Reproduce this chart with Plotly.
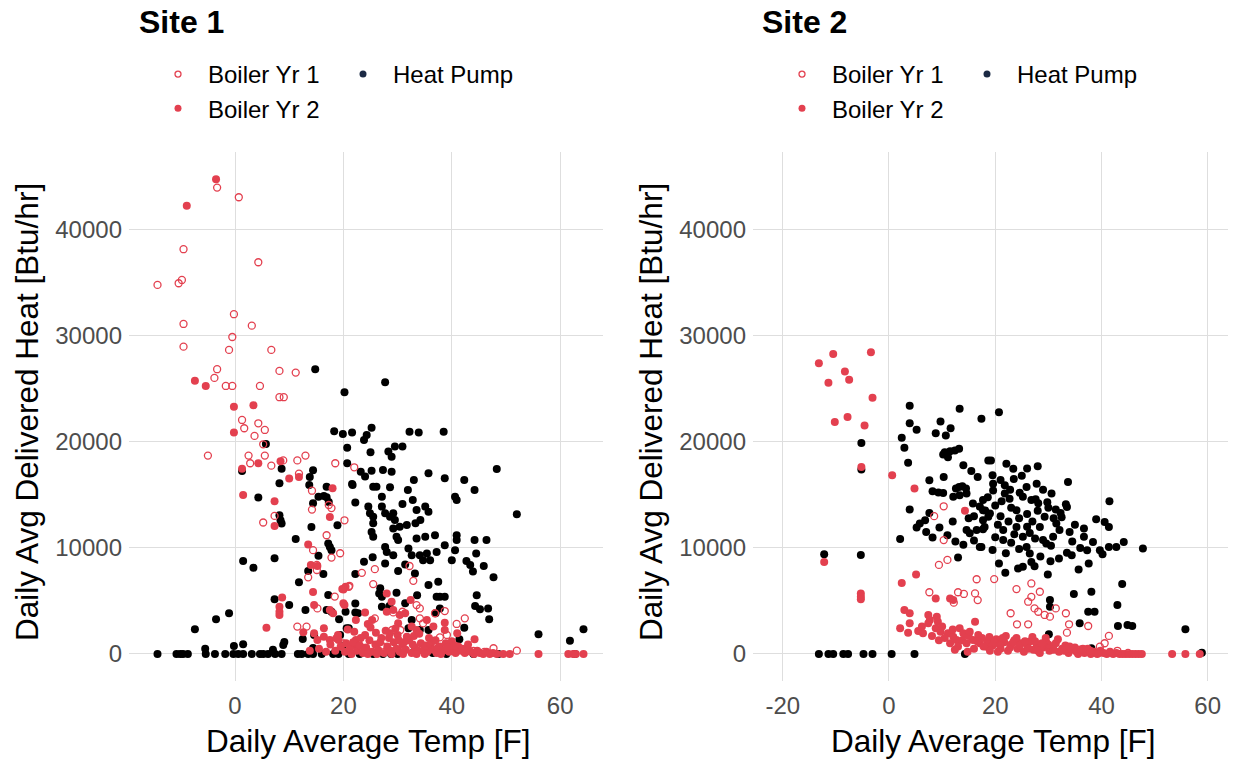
import plotly.graph_objects as go

# ---------------- data (Daily Average Temp [F], Daily Avg Delivered Heat [Btu/hr]) ----------------
site1_boiler_yr1 = [
    (-3.3, 43990), (0.7, 43080), (-9.5, 38180), (4.3, 36950), (-14.3, 34810), (-9.8, 35280),
    (-10.4, 34970), (-0.2, 32050), (3.1, 30970), (-9.5, 31130), (-0.5, 29900), (-9.5, 28990),
    (-1.1, 28680), (6.7, 28680), (8.2, 26700), (11.2, 26540), (-3.3, 26860), (-3.8, 26040),
    (-1.7, 25280), (-0.5, 25280), (4.6, 25280), (8.2, 24220), (9.0, 24220), (1.3, 22075),
    (4.3, 21760), (1.7, 21290), (5.5, 21130), (3.6, 20570), (5.2, 19780), (18.5, 17990),
    (22.0, 17610), (-5.0, 18710), (2.5, 18710), (2.8, 17990), (5.5, 18710), (6.7, 17760),
    (8.9, 18260), (11.5, 18260), (13.0, 18710), (11.8, 17010), (14.2, 15400), (14.2, 13620),
    (17.3, 14050), (17.8, 13760), (7.3, 13020), (5.2, 12400), (20.2, 12610), (16.9, 11200),
    (14.4, 9790), (19.4, 9500), (17.8, 9090), (15.1, 8400), (15.1, 7920), (13.5, 7230),
    (21.1, 6430), (15.2, 4300), (18.4, 5410), (11.5, 2580), (13.2, 2580), (23.4, 7650),
    (25.8, 8000), (25.5, 6590), (21.0, 6340), (32.2, 8300), (32.9, 6900), (33.5, 4610),
    (34.1, 4300), (30.9, 3980), (34.1, 3360), (34.7, 2890), (36.9, 3840), (38.7, 4050),
    (42.4, 3360), (40.9, 2830), (37.8, 1570), (39.1, 1790), (47.7, 540), (52.0, 310),
    (25.8, 3360), (29.0, 2260), (30.5, 2260), (29.2, 3920), (27.0, 800), (31.0, 500),
    (36.0, 900), (44.0, 300), (46.0, 200), (24.0, 1200), (20.0, 1000),
]

site1_boiler_yr2 = [
    (-3.5, 44780), (-8.9, 42290), (-7.4, 25780), (-5.4, 25280), (-0.2, 23330), (3.4, 23460),
    (-0.2, 20880), (4.3, 17990), (8.4, 18170), (1.3, 17480), (10.0, 16540), (11.8, 16690),
    (18.0, 15630), (1.5, 15000), (7.3, 14400), (7.3, 12080), (17.5, 12920), (13.5, 10330),
    (14.0, 8400), (15.2, 8300), (14.4, 5850), (19.8, 6130), (20.4, 6350), (8.7, 5330),
    (8.2, 4460), (8.2, 3980), (8.2, 3670), (14.6, 4610), (17.5, 4140), (18.1, 3830),
    (20.2, 4610), (5.8, 2480), (12.6, 2040), (14.6, 1950), (16.4, 2420), (16.4, 1630),
    (17.5, 1320), (15.2, 1320), (18.7, 1480), (19.1, 1320), (22.3, 1320), (21.7, 850),
    (20.5, 1000), (20.0, 6090), (20.0, 4780), (22.3, 3200), (24.0, 3900), (25.3, 3200),
    (24.5, 2830), (28.0, 5710), (28.9, 4930), (28.0, 3980), (29.2, 4140), (30.4, 3670),
    (32.4, 5080), (31.4, 3840), (30.1, 2890), (32.6, 2580), (33.5, 2260), (35.4, 3200),
    (36.6, 2580), (38.7, 2950), (38.7, 2260), (41.0, 1950), (44.2, 1380), (28.6, 1950),
    (31.7, 1630), (50.7, 0), (56.0, 0), (61.5, 0), (62.4, 0), (64.3, 0), (62.9, 0),
    (18.5, 300), (19.5, 700), (20.3, 200), (21.2, 500), (21.8, 1100), (22.5, 300),
    (23.0, 800), (23.6, 100), (24.2, 600), (24.8, 1300), (25.3, 200), (25.9, 900),
    (26.4, 400), (27.0, 1500), (27.5, 100), (28.1, 700), (28.7, 300), (29.3, 1100),
    (29.8, 500), (30.4, 200), (30.9, 900), (31.5, 400), (32.1, 1300), (32.6, 100),
    (33.2, 600), (33.8, 300), (34.3, 1000), (34.9, 500), (35.5, 200), (36.1, 800),
    (36.6, 400), (37.2, 100), (37.8, 700), (38.4, 300), (38.9, 1000), (39.5, 200),
    (40.1, 500), (40.7, 100), (41.2, 700), (41.8, 300), (42.4, 100), (43.0, 400),
    (43.5, 200), (44.1, 0), (44.7, 300), (45.2, 100), (45.8, 0), (46.4, 200),
    (47.0, 0), (47.6, 100), (48.3, 0), (49.5, 0), (26.0, 2000), (27.8, 2200),
    (30.0, 1800), (33.0, 1700), (35.8, 1500), (24.0, 1800), (22.0, 2100), (37.0, 1300),
    (40.0, 1200), (43.0, 900), (13.8, 300), (15.5, 500), (16.8, 200), (17.6, 900),
    (19.0, 1800), (20.8, 2300), (23.2, 1500), (25.0, 2500), (26.8, 1100), (28.4, 1500),
    (29.6, 2400), (31.2, 1100), (32.8, 900), (34.0, 1900), (35.2, 800), (36.4, 1200),
    (37.5, 600), (39.2, 600), (40.5, 800), (42.0, 500), (21.5, 0), (23.8, 300),
    (26.2, 0), (28.9, 0), (31.0, 0), (33.5, 0), (35.0, 0), (38.0, 0), (24.5, 0), (30.2, 1300),
]

site1_heat_pump = [
    (14.8, 26860), (20.2, 24690), (27.7, 25630), (5.7, 19810), (18.3, 21010), (19.9, 20750),
    (21.6, 20880), (20.7, 19460), (20.7, 17990), (21.6, 16040), (22.2, 14280), (1.3, 17250),
    (8.6, 17480), (14.4, 17320), (13.8, 16690), (8.2, 16100), (13.7, 15940), (16.9, 15780),
    (4.3, 14750), (15.4, 14840), (16.9, 14780), (16.4, 14900), (14.4, 14220), (17.3, 14330),
    (8.2, 13080), (8.4, 12610), (8.6, 12300), (18.9, 12140), (14.1, 11980), (11.2, 10850),
    (17.2, 10420), (17.5, 10100), (17.8, 9790), (15.4, 9270), (1.5, 8770), (3.4, 8140),
    (7.3, 9030), (13.5, 7830), (16.3, 7550), (11.8, 6760), (17.2, 5570), (22.2, 7550),
    (7.3, 5170), (10.0, 4610), (13.0, 4140), (16.9, 4140), (17.8, 3980), (20.4, 3980),
    (22.2, 4770), (22.2, 3910), (19.2, 3270), (-3.5, 3270), (-1.1, 3840), (-7.4, 2330),
    (20.6, 2420), (14.6, 1790), (12.5, 1410), (1.5, 910), (9.1, 1130), (8.9, 850),
    (19.8, 720), (-14.3, 0), (-10.8, 0), (-10.1, 0), (-9.6, 0), (-8.7, 0), (-5.4, 0),
    (-3.7, 0), (-1.8, 0), (-0.3, 0), (0.6, 0), (1.5, 0), (3.1, 0), (4.6, 0), (5.2, 0),
    (6.1, 0), (7.4, 0), (8.6, 0), (11.6, 0), (12.3, 0), (13.5, 0), (14.4, 0), (16.0, 0),
    (18.1, 0), (19.1, 0), (-5.5, 500), (-0.2, 750), (7.0, 400), (14.4, 560),
    (23.8, 20190), (24.3, 20660), (25.2, 21350), (32.2, 20970), (33.9, 20880), (38.5, 20970),
    (48.3, 17450), (52.0, 13180), (25.0, 19030), (28.3, 19090), (28.9, 18610), (29.5, 19560),
    (30.9, 19560), (35.7, 17050), (38.7, 16570), (33.0, 16410), (42.3, 16410), (44.2, 15470),
    (23.2, 17200), (24.0, 16730), (25.2, 17290), (27.3, 17360), (28.9, 17200), (21.7, 15940),
    (25.5, 15780), (26.1, 15780), (28.6, 15730), (27.1, 14840), (31.9, 15470), (32.8, 14530),
    (40.6, 14840), (40.9, 14530), (24.6, 13900), (24.9, 13270), (25.5, 12950), (25.5, 12330),
    (27.1, 13900), (27.7, 13270), (28.6, 12950), (29.2, 13270), (29.5, 12640), (30.4, 12010),
    (30.9, 14150), (33.5, 13580), (35.1, 13900), (35.7, 13420), (34.2, 12640), (33.3, 12330),
    (31.7, 12170), (29.2, 11830), (29.8, 11050), (30.1, 10740), (25.2, 11510), (25.5, 11050),
    (33.5, 10890), (35.1, 11050), (36.9, 11200), (40.9, 11200), (40.9, 10740), (40.6, 9790),
    (44.2, 10740), (46.4, 10740), (38.7, 10260), (37.2, 9630), (35.4, 9480), (44.5, 9480),
    (27.7, 10100), (28.0, 9630), (29.2, 9320), (32.0, 9950), (32.6, 9320), (34.1, 9320),
    (34.7, 8850), (36.0, 8850), (40.0, 8850), (42.7, 8770), (43.4, 8400), (43.9, 7770),
    (45.9, 8300), (47.7, 7230), (25.4, 9120), (23.8, 8710), (27.7, 8540), (30.1, 7830),
    (31.4, 8440), (33.2, 7600), (35.7, 6500), (37.5, 6810), (26.8, 6190), (26.6, 5710),
    (27.1, 5400), (29.8, 5770), (33.6, 5550), (37.2, 5400), (37.8, 5400), (38.7, 5400),
    (44.6, 5550), (44.3, 4530), (45.2, 4210), (46.7, 4300), (46.9, 3270), (27.1, 4460),
    (28.5, 4530), (31.4, 4780), (32.6, 3200), (37.0, 3840), (37.8, 4300), (21.0, 2420),
    (34.1, 2260), (35.7, 2260), (42.3, 2480), (41.4, 1380), (32.0, 2420), (56.0, 1850),
    (61.8, 1250), (64.3, 2330), (19.4, 1790), (22.7, 3840), (48.6, 0), (62.7, 0),
    (25.5, 0), (27.3, 0), (28.8, 0), (30.0, 0), (33.0, 200), (36.5, 100), (39.0, 0),
    (41.0, 300), (44.0, 0), (23.0, 0), (21.0, 0),
]

site2_boiler_yr1 = [
    (10.3, 13930), (8.5, 13000), (10.3, 10740), (9.4, 8400), (11.0, 8870), (16.5, 7050),
    (7.6, 5820), (13.0, 5820), (14.1, 5660), (12.2, 4840), (16.2, 5710), (16.7, 5080),
    (19.8, 7060), (24.0, 6120), (26.8, 6650), (28.4, 5870), (26.8, 5390), (26.2, 4930),
    (27.4, 4300), (28.1, 3980), (29.3, 3680), (30.3, 3520), (31.4, 4300), (33.3, 3840),
    (22.9, 3840), (24.1, 2800), (26.2, 2800), (33.9, 2800), (33.5, 2010), (37.5, 2640),
    (41.4, 1700), (40.6, 1010), (39.7, 690), (36.0, 400), (43.0, 300), (45.0, 100),
    (38.0, 200), (30.0, 600), (21.0, 900),
]

site2_boiler_yr2 = [
    (-13.2, 27420), (-10.5, 28300), (-3.4, 28450), (-8.3, 26640), (-7.5, 25860), (-11.4, 25580),
    (-3.1, 24170), (-10.2, 21880), (-7.8, 22350), (-4.6, 21560), (-5.2, 17640), (0.6, 16850),
    (4.8, 15600), (14.3, 13500), (-12.2, 8680), (-5.3, 5700), (-5.3, 5390), (-5.3, 5150),
    (2.4, 6700), (5.1, 7490), (8.8, 5230), (11.5, 5230), (12.1, 5080), (2.9, 4140),
    (3.9, 3840), (2.1, 2420), (3.6, 2010), (3.9, 2890), (5.5, 2170), (6.4, 1950),
    (7.4, 3680), (7.7, 3210), (7.4, 2890), (9.0, 3520), (9.2, 3050), (8.8, 2420),
    (9.7, 2100), (11.1, 1950), (12.1, 1630), (13.3, 2420), (14.0, 1950), (11.5, 1010),
    (12.7, 1320), (14.6, 1010), (15.8, 1320), (17.1, 1010), (18.4, 690), (16.2, 3050),
    (10.5, 1500), (13.0, 700), (15.0, 1700), (16.0, 500), (17.5, 1500), (18.5, 1200),
    (19.5, 800), (20.2, 1400), (21.0, 500), (21.7, 1100), (22.4, 300), (23.0, 900),
    (23.6, 1300), (24.2, 500), (24.8, 1000), (25.4, 200), (26.0, 800), (26.6, 1200),
    (27.2, 400), (27.8, 900), (28.4, 100), (29.0, 600), (29.6, 1100), (30.2, 300),
    (30.8, 700), (31.4, 1000), (32.0, 200), (32.6, 500), (33.2, 800), (33.8, 100),
    (34.4, 400), (35.0, 600), (35.6, 0), (36.2, 300), (36.8, 100), (37.4, 500),
    (38.0, 0), (38.6, 200), (39.2, 0), (39.8, 300), (40.4, 100), (41.0, 0),
    (41.6, 200), (42.2, 0), (42.8, 100), (43.4, 0), (44.0, 0), (44.6, 0),
    (45.2, 0), (45.8, 0), (46.4, 0), (47.0, 0), (47.6, 0), (53.3, 0),
    (55.8, 0), (58.5, 0), (20.5, 200), (24.0, 1500), (27.0, 1600), (19.0, 300),
    (22.0, 1700), (29.5, 1500), (31.8, 1400), (10.0, 2600), (12.0, 2300), (13.8, 1300),
    (15.2, 2100), (16.8, 1800), (17.8, 700), (18.9, 1600), (19.8, 1100), (20.8, 900),
    (21.4, 1500), (22.8, 600), (23.4, 1100), (24.6, 800), (25.6, 1200), (26.3, 500),
    (27.5, 1200), (28.0, 300), (28.8, 1000), (30.0, 900), (31.0, 400), (33.0, 300),
    (34.0, 700), (35.3, 200), (36.5, 500), (37.9, 300), (39.5, 100), (12.4, 400),
    (14.8, 200), (16.6, 1200), (9.4, 1300), (8.1, 1700), (6.2, 2600),
]

site2_heat_pump = [
    (3.9, 23420), (13.3, 23130), (17.4, 22190), (9.7, 21930), (11.6, 21300), (10.7, 20610),
    (8.8, 20820), (3.9, 21770), (5.2, 21150), (2.4, 20390), (2.9, 19450), (-5.2, 19890),
    (-5.2, 17410), (3.6, 18040), (10.5, 19030), (11.5, 19120), (12.4, 19190), (13.2, 19350),
    (10.2, 18810), (11.1, 18560), (14.0, 17790), (15.5, 17250), (16.7, 16690), (18.7, 18250),
    (7.6, 16380), (10.3, 16690), (8.2, 15340), (9.3, 15220), (10.2, 15180), (12.6, 15620),
    (13.2, 15750), (13.8, 15810), (14.5, 15600), (12.1, 14840), (13.3, 14960), (14.6, 15130),
    (17.7, 14530), (18.6, 14780), (17.1, 13900), (18.1, 13530), (18.7, 12950), (3.9, 13620),
    (7.6, 13300), (6.8, 12610), (5.8, 12300), (5.2, 11930), (9.5, 11930), (8.2, 10980),
    (2.1, 10850), (14.6, 11700), (15.2, 11390), (16.5, 11700), (17.7, 11760), (17.4, 10100),
    (13.0, 9090), (-12.2, 9410), (-5.3, 9340), (-13.2, 0), (-11.4, 0), (-10.5, 0),
    (-8.6, 0), (-7.7, 0), (-4.8, 0), (-3.1, 0), (0.5, 0), (4.8, 0), (14.3, 0),
    (20.7, 22800), (33.7, 16220), (41.5, 14400), (19.2, 18250), (22.1, 17950), (23.4, 17480),
    (19.5, 16850), (19.6, 16060), (19.6, 15430), (21.8, 15910), (21.8, 15130), (22.7, 14650),
    (25.9, 15750), (27.8, 16060), (29.0, 15500), (30.6, 15130), (25.2, 14840), (26.8, 14530),
    (28.1, 14220), (31.4, 13620), (33.3, 14120), (33.5, 13860), (39.0, 12710), (40.6, 12460),
    (41.4, 11980), (36.7, 11830), (36.7, 11050), (38.4, 10570), (39.7, 9790), (40.2, 9410),
    (37.3, 9790), (35.7, 7970), (37.6, 8540), (41.4, 10100), (42.8, 10100), (44.2, 10570),
    (47.8, 9950), (33.5, 9540), (34.4, 9320), (32.0, 9010), (30.4, 8750), (29.9, 7500),
    (27.4, 8280), (25.2, 8220), (24.3, 8070), (21.9, 7650), (20.7, 8540), (17.7, 13550),
    (17.7, 12610), (17.1, 10100), (18.0, 11980), (19.0, 13240), (21.5, 11700), (21.5, 10740),
    (24.0, 11980), (24.0, 13550), (25.2, 11050), (25.9, 10100), (26.5, 9480), (26.8, 8680),
    (28.4, 11980), (29.0, 10740), (29.6, 10420), (30.9, 11050), (31.5, 12300), (32.1, 11700),
    (29.3, 12950), (34.8, 5650), (38.1, 5870), (37.5, 3980), (38.7, 3980), (43.0, 4610),
    (43.9, 6590), (43.1, 2640), (44.9, 2730), (45.8, 2640), (30.3, 5080), (30.3, 4460),
    (30.1, 1850), (35.9, 2890), (55.8, 2330), (58.9, 120), (38.1, 540), (20.0, 14000),
    (21.0, 13000), (22.5, 12500), (23.0, 13800), (24.5, 12800), (26.0, 13200), (27.0, 12500),
    (28.0, 13500), (30.0, 13800), (31.0, 12800), (32.5, 12900), (26.5, 11400), (27.5, 10900),
    (23.0, 10500), (22.0, 9500), (19.5, 9800), (20.0, 11000), (24.5, 9900), (28.5, 9200),
    (30.5, 10200), (34.5, 10600), (36.0, 10000), (35.0, 12200), (23.5, 16500), (25.0, 16800),
    (21.0, 16400), (26.0, 17500), (28.0, 17700), (15.8, 14200), (16.0, 13000), (15.0, 12800),
    (12.0, 12500), (11.0, 11200), (7.0, 11500), (12.5, 10600), (14.0, 10300), (16.0, 10700),
    (22.8, 15500), (24.6, 15200), (20.5, 12200), (23.6, 11300), (26.0, 12000), (27.6, 14600),
    (29.8, 14300), (32.3, 13300), (34.0, 11500), (21.2, 14400),
]

series_names = ["Boiler Yr 1", "Boiler Yr 2", "Heat Pump"]
site_titles = ["Site 1", "Site 2"]
y_ticks = [0, 10000, 20000, 30000, 40000]
x_ticks_site1 = [0, 20, 40, 60]
x_ticks_site2 = [-20, 0, 20, 40, 60]
x_title = "Daily Average Temp [F]"
y_title = "Daily Avg Delivered Heat [Btu/hr]"

# ---------------- styling ----------------
W, H = 1233, 759
RED = "#E3404F"
BLACK = "#000000"
NAVY = "#1B2A44"
FONT = "Liberation Sans, Arial, sans-serif"
GRID = "#DEDEDE"


def px(p):
    return p / W


def py(p):
    return 1 - p / H


fig = go.Figure()

sites = [
    ("x", "y", site1_boiler_yr1, site1_boiler_yr2, site1_heat_pump),
    ("x2", "y2", site2_boiler_yr1, site2_boiler_yr2, site2_heat_pump),
]

for xa, ya, b1, b2, hp in sites:
    fig.add_trace(go.Scatter(
        x=[p[0] for p in hp], y=[p[1] for p in hp], mode="markers", xaxis=xa, yaxis=ya,
        marker=dict(size=8, color=BLACK, line=dict(width=0)), showlegend=False, name=series_names[2]))
    fig.add_trace(go.Scatter(
        x=[p[0] for p in b2], y=[p[1] for p in b2], mode="markers", xaxis=xa, yaxis=ya,
        marker=dict(size=8, color=RED, line=dict(width=0)), showlegend=False, name=series_names[1]))
    fig.add_trace(go.Scatter(
        x=[p[0] for p in b1], y=[p[1] for p in b1], mode="markers", xaxis=xa, yaxis=ya,
        marker=dict(size=7, symbol="circle-open", color=RED, line=dict(width=1.3, color=RED)),
        showlegend=False, name=series_names[0]))

# legend-only entries (ggplot-style legends above each panel)
open_mk = dict(size=6, symbol="circle-open", color=RED, line=dict(width=1.3, color=RED))
legend_entries = [
    ("legend", "x", series_names[0], open_mk),
    ("legend", "x", series_names[1], dict(size=7, color=RED)),
    ("legend2", "x", series_names[2], dict(size=7, color=NAVY)),
    ("legend3", "x2", series_names[0], open_mk),
    ("legend3", "x2", series_names[1], dict(size=7, color=RED)),
    ("legend4", "x2", series_names[2], dict(size=7, color=NAVY)),
]
for lg, xa, nm, mk in legend_entries:
    fig.add_trace(go.Scatter(x=[None], y=[None], mode="markers", xaxis=xa,
                             yaxis="y" if xa == "x" else "y2", marker=mk, name=nm,
                             legend=lg, showlegend=True))

y_dom = [py(681), py(152)]
y_rng = [-2550, 47350]
axis_common = dict(showgrid=True, gridcolor=GRID, gridwidth=1.3, zeroline=False, showline=False,
                   ticks="", tickfont=dict(family=FONT, size=24, color="#4D4D4D"))

fig.update_layout(
    width=W, height=H, margin=dict(l=0, r=0, t=0, b=0),
    paper_bgcolor="white", plot_bgcolor="white",
    font=dict(family=FONT, color="black"),
    xaxis=dict(domain=[px(129), px(603)], range=[-19.56, 67.9], tickvals=x_ticks_site1,
               ticktext=[str(v) for v in x_ticks_site1],
               anchor="y", ticklabelstandoff=8, **axis_common),
    yaxis=dict(domain=y_dom, range=y_rng, tickvals=y_ticks, ticktext=[str(v) for v in y_ticks],
               anchor="x", ticklabelstandoff=6, **axis_common),
    xaxis2=dict(domain=[px(753), px(1228)], range=[-25.6, 63.82], tickvals=x_ticks_site2,
                ticktext=[str(v) for v in x_ticks_site2],
                anchor="y2", ticklabelstandoff=8, **axis_common),
    yaxis2=dict(domain=y_dom, range=y_rng, tickvals=y_ticks, ticktext=[str(v) for v in y_ticks],
                anchor="x2", ticklabelstandoff=6, **axis_common),
)

leg_common = dict(orientation="v", xanchor="left", yanchor="top", bgcolor="rgba(0,0,0,0)",
                  font=dict(family=FONT, size=24, color="black"), itemwidth=50,
                  tracegroupgap=0, itemclick=False, itemdoubleclick=False)
leg_top = py(52)
fig.update_layout(
    legend=dict(x=px(148), y=leg_top, **leg_common),
    legend2=dict(x=px(333), y=leg_top, **leg_common),
    legend3=dict(x=px(772), y=leg_top, **leg_common),
    legend4=dict(x=px(957), y=leg_top, **leg_common),
)

annotations = []
for title, left in zip(site_titles, [137, 760]):
    annotations.append(dict(text="<b>" + title + "</b>", x=px(left), y=py(22), xref="paper", yref="paper",
                            xanchor="left", yanchor="middle", showarrow=False,
                            font=dict(family=FONT, size=32, color="black")))
for cx in [368, 993]:
    annotations.append(dict(text=x_title, x=px(cx), y=py(741), xref="paper", yref="paper",
                            xanchor="center", yanchor="middle", showarrow=False,
                            font=dict(family=FONT, size=31.5, color="black")))
for cx in [27, 651]:
    annotations.append(dict(text=y_title, x=px(cx), y=py(412), xref="paper", yref="paper",
                            xanchor="center", yanchor="middle", textangle=-90, showarrow=False,
                            font=dict(family=FONT, size=31.5, color="black")))
fig.update_layout(annotations=annotations)

fig.write_html("out.html")
